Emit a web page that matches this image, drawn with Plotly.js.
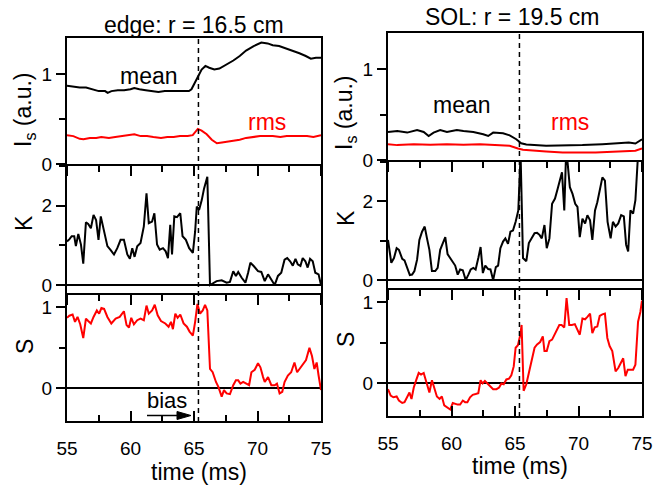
<!DOCTYPE html>
<html>
<head>
<meta charset="utf-8">
<script src="https://cdn.plot.ly/plotly-3.0.1.min.js"></script>
<style>html,body{margin:0;padding:0;background:#fff;}#chart{width:654px;height:491px;}</style>
</head>
<body>
<div id="chart"></div>
<script>
// ---------- DATA ----------
const biasTime = 65.35;

// edge (r = 16.5 cm): Is mean
const tMeanEdge = [55.0,55.5,56.0,56.5,57.0,57.5,58.0,58.2,58.5,59.0,59.5,60.0,60.3,60.7,61.2,61.7,62.2,62.7,63.2,63.7,64.2,64.6,64.8,65.0,65.35,65.6,65.9,66.2,66.6,67.0,67.5,68.1,68.6,69.1,69.7,70.3,70.8,71.2,71.7,72.3,72.8,73.3,73.8,74.2,74.6,75.0];
const meanEdge  = [0.87,0.86,0.85,0.85,0.83,0.81,0.81,0.79,0.81,0.82,0.82,0.83,0.845,0.83,0.82,0.81,0.80,0.81,0.81,0.815,0.81,0.81,0.83,0.88,0.98,1.05,1.09,1.07,1.05,1.06,1.10,1.15,1.20,1.26,1.31,1.35,1.34,1.32,1.31,1.28,1.26,1.23,1.20,1.17,1.18,1.18];
// edge: Is rms
const tRmsEdge = [55.0,55.5,56.0,56.3,56.8,57.3,57.7,58.3,58.8,59.3,59.8,60.3,60.8,61.3,61.8,62.4,62.9,63.4,63.9,64.5,64.9,65.3,65.6,66.0,66.4,66.8,67.2,67.7,68.1,68.6,69.1,69.6,70.2,70.7,71.2,71.8,72.3,72.9,73.4,73.9,74.4,74.7,75.0];
const rmsEdge  = [0.32,0.31,0.28,0.275,0.29,0.29,0.30,0.29,0.30,0.31,0.32,0.33,0.31,0.31,0.30,0.29,0.30,0.30,0.31,0.31,0.32,0.39,0.37,0.33,0.27,0.23,0.24,0.25,0.26,0.27,0.29,0.30,0.31,0.31,0.31,0.30,0.31,0.31,0.31,0.31,0.30,0.31,0.32];
// edge: kurtosis K
const tKEdge = [55.00,55.18,55.37,55.57,55.70,55.89,56.10,56.28,56.49,56.67,56.88,57.09,57.29,57.48,57.66,57.92,58.18,58.44,58.70,58.96,59.22,59.48,59.75,59.95,60.14,60.32,60.53,60.79,61.05,61.26,61.44,61.70,61.88,62.09,62.30,62.56,62.77,62.95,63.13,63.27,63.45,63.66,63.92,64.10,64.36,64.62,64.91,65.09,65.22,65.40,65.61,65.79,66.05,66.26,66.52,66.78,67.18,67.57,67.83,68.09,68.30,68.48,68.74,69.05,69.26,69.44,69.70,70.04,70.30,70.57,70.83,71.09,71.35,71.61,71.87,72.13,72.34,72.57,72.78,72.99,73.17,73.38,73.56,73.77,73.95,74.14,74.35,74.55,74.81,75.00];
const kEdge  = [1.10,1.15,1.23,1.23,0.98,1.29,1.02,0.54,1.58,1.54,1.43,1.77,1.64,1.14,1.73,1.31,0.98,0.88,0.77,0.93,1.14,1.14,0.77,0.66,0.93,0.71,0.98,1.06,1.48,2.31,1.56,1.60,1.81,1.02,0.89,0.93,0.85,0.68,1.52,0.77,1.73,1.71,1.81,1.23,1.14,0.93,0.81,1.35,1.98,1.89,2.14,2.43,2.73,0.0,0.06,0.10,0.12,0.06,0.08,0.35,0.23,0.33,0.19,0.06,0.31,0.56,0.48,0.35,0.33,0.10,0.27,0.14,0.0,0.23,0.31,0.64,0.68,0.60,0.49,0.66,0.52,0.48,0.68,0.60,0.44,0.66,0.60,0.31,0.27,0.0];
// edge: skewness S
const tSEdge = [55.00,55.18,55.44,55.63,55.83,56.04,56.28,56.49,56.67,56.88,57.09,57.35,57.53,57.71,57.92,58.18,58.49,58.83,59.15,59.48,59.69,59.88,60.06,60.27,60.53,60.79,61.05,61.26,61.44,61.70,61.91,62.14,62.40,62.74,63.00,63.19,63.34,63.53,63.71,63.92,64.18,64.44,64.65,64.91,65.09,65.27,65.48,65.69,65.87,66.05,66.26,66.47,66.73,66.92,67.18,67.36,67.57,67.83,68.09,68.30,68.48,68.66,68.87,69.08,69.34,69.52,69.78,70.04,70.23,70.44,70.57,70.83,71.09,71.35,71.53,71.74,71.95,72.13,72.39,72.65,72.91,73.12,73.38,73.62,73.82,74.09,74.29,74.48,74.66,74.81,75.00];
const sEdge  = [0.87,0.895,0.91,0.82,0.88,0.79,0.62,0.86,0.83,0.80,0.88,0.96,0.92,0.99,0.98,0.88,0.80,0.86,0.88,0.95,0.78,0.75,0.87,0.79,0.84,0.86,0.84,1.02,0.92,0.96,1.03,0.90,0.83,0.80,0.76,0.82,0.73,0.92,0.87,0.91,0.80,0.76,0.70,0.65,0.82,1.04,0.92,0.96,1.03,0.96,0.24,0.20,0.08,0.02,-0.10,-0.02,-0.06,-0.07,0.04,0.10,0.10,0.06,0.08,0.06,0.04,0.20,0.23,0.31,0.26,0.14,0.08,0.14,0.04,0.04,0.06,-0.06,-0.04,0.08,0.16,0.20,0.32,0.20,0.26,0.32,0.35,0.50,0.40,0.24,0.32,0.16,-0.02];

// SOL (r = 19.5 cm): Is mean
const tMeanSol = [55.0,55.73,56.51,57.29,57.81,58.20,58.59,59.11,59.64,60.42,60.94,61.72,62.50,62.89,63.28,64.06,64.58,65.10,65.49,65.89,67.45,68.75,70.31,71.88,73.18,73.96,74.48,75.0];
const meanSol  = [0.309,0.320,0.302,0.331,0.309,0.265,0.302,0.331,0.309,0.331,0.320,0.309,0.284,0.265,0.302,0.294,0.272,0.229,0.185,0.171,0.156,0.156,0.164,0.175,0.185,0.193,0.182,0.229];
// SOL: Is rms
const tRmsSol = [55.0,55.73,57.03,58.33,59.64,60.94,62.24,63.54,64.58,65.23,65.63,67.45,68.75,71.35,73.18,73.96,74.48,75.0];
const rmsSol  = [0.175,0.164,0.175,0.168,0.175,0.168,0.175,0.164,0.156,0.127,0.113,0.095,0.084,0.084,0.091,0.102,0.102,0.127];
// SOL: kurtosis K
const tKSol = [55.00,55.26,55.47,55.68,55.86,56.12,56.30,56.51,56.72,56.90,57.08,57.29,57.47,57.68,57.89,58.07,58.26,58.46,58.72,58.91,59.11,59.32,59.51,59.69,59.90,60.10,60.29,60.49,60.68,60.89,61.12,61.33,61.51,61.72,61.90,62.11,62.29,62.47,62.66,62.89,63.07,63.28,63.49,63.67,63.85,64.06,64.24,64.45,64.64,64.84,65.05,65.26,65.44,65.63,65.89,66.09,66.33,66.54,66.74,66.93,67.11,67.32,67.50,67.71,67.92,68.15,68.36,68.54,68.70,68.88,69.01,69.14,69.32,69.53,69.74,69.92,70.10,70.31,70.52,70.70,70.91,71.09,71.30,71.48,71.69,71.88,72.08,72.29,72.53,72.71,72.92,73.13,73.36,73.57,73.75,73.91,74.09,74.30,74.48,74.69,75.00];
const kSol  = [1.02,0.44,0.56,0.81,0.77,0.54,0.50,0.31,0.13,0.14,0.23,0.52,1.02,1.23,1.36,1.06,0.77,0.23,0.23,0.31,0.77,0.94,1.09,0.66,0.56,0.44,0.37,0.14,0.27,0.25,0.0,0.14,0.27,0.31,0.27,0.56,0.84,0.18,0.37,0.28,0.27,0.0,0.33,0.37,0.81,0.98,1.06,0.92,1.23,1.26,1.48,1.77,3.2,0.56,0.48,0.94,1.09,1.19,1.20,1.15,1.06,1.40,0.81,1.06,1.94,2.07,2.32,2.51,2.74,1.77,3.1,2.99,2.36,2.19,1.94,1.86,1.09,1.56,1.44,1.65,1.52,1.02,1.77,1.98,2.28,2.61,2.53,1.48,1.06,1.48,1.36,1.44,1.65,1.62,0.90,0.73,1.77,1.69,2.03,3.2,3.5];
// SOL: skewness S
const tSSol = [55.00,55.21,55.42,55.68,55.86,56.12,56.30,56.51,56.69,56.85,57.03,57.24,57.42,57.60,57.81,58.07,58.26,58.46,58.65,58.85,59.06,59.24,59.43,59.64,59.90,60.10,60.29,60.49,60.68,60.89,61.07,61.25,61.46,61.67,61.90,62.11,62.29,62.45,62.63,62.81,63.02,63.28,63.54,63.75,63.93,64.11,64.32,64.53,64.71,64.90,65.05,65.23,65.42,65.52,65.68,65.89,66.09,66.33,66.54,66.74,66.98,67.19,67.32,67.50,67.71,67.92,68.10,68.28,68.49,68.67,68.88,69.06,69.27,69.48,69.71,69.92,70.10,70.31,70.52,70.70,70.91,71.09,71.28,71.48,71.67,71.88,72.08,72.27,72.45,72.66,72.92,73.13,73.31,73.52,73.70,73.88,74.09,74.30,74.48,74.69,74.87,75.00];
const sSol  = [-0.07,-0.15,-0.17,-0.16,-0.21,-0.24,-0.23,-0.17,-0.11,-0.19,-0.05,0.05,0.13,0.11,0.13,-0.01,-0.11,0.04,-0.05,-0.16,-0.19,-0.16,-0.27,-0.29,-0.32,-0.24,-0.25,-0.26,-0.26,-0.21,-0.23,-0.23,-0.17,-0.14,-0.13,-0.12,0.04,0.0,0.03,0.0,-0.03,-0.07,-0.07,-0.05,0.0,-0.01,0.05,0.06,0.10,0.21,0.44,0.47,0.60,0.72,-0.09,-0.01,0.13,0.29,0.44,0.48,0.51,0.58,0.40,0.40,0.52,0.54,0.60,0.66,0.72,0.72,0.69,1.05,0.72,0.72,0.73,0.66,0.60,0.80,0.79,0.82,0.86,0.62,0.69,0.70,0.83,0.85,0.86,0.56,0.46,0.40,0.15,0.19,0.24,0.31,0.09,0.17,0.17,0.17,0.23,0.76,0.88,1.02];

// ---------- LAYOUT HELPERS ----------
const W = 654, H = 491;
const px = v => v / W;
const py = v => 1 - v / H;
const FONT = 'Arial, "Liberation Sans", sans-serif';
const BLACK = '#000000', RED = '#ff0000';

function xax(dom, anchor, bottom) {
  return {
    domain: [px(dom[0]), px(dom[1])], anchor: anchor, range: [55, 75],
    showgrid: false, zeroline: false, showline: true, mirror: true,
    linecolor: BLACK, linewidth: 2,
    ticks: bottom ? 'inside' : 'outside', tick0: 55, dtick: 5, ticklen: 10, tickwidth: 2, tickcolor: BLACK,
    minor: {dtick: 2.5, tick0: 55, ticklen: 6, tickwidth: 2, tickcolor: BLACK, ticks: bottom ? 'inside' : 'outside', showgrid: false},
    showticklabels: !!bottom, ticklabelstandoff: 9,
    tickfont: {family: FONT, size: 19, color: BLACK}
  };
}
function yax(dom, anchor, range, dtick, minorDtick, zl) {
  return {
    domain: [py(dom[1]), py(dom[0])], anchor: anchor, range: range,
    showgrid: false, zeroline: zl, zerolinecolor: BLACK, zerolinewidth: 2,
    showline: true, mirror: true, linecolor: BLACK, linewidth: 2,
    ticks: 'outside', tick0: 0, dtick: dtick, ticklen: 9, tickwidth: 2, tickcolor: BLACK,
    minor: {dtick: minorDtick, tick0: 0, ticklen: 6, tickwidth: 2, tickcolor: BLACK, ticks: 'outside', showgrid: false},
    tickfont: {family: FONT, size: 19, color: BLACK}
  };
}

// panel boxes in pixels; neighbouring panels overlap so shared edges draw as one line
const LX = [67, 321], RX = [388, 642];
const L1 = [38, 164], L2 = [166, 293], L3 = [295, 421];
const R1 = [33, 160], R2 = [162, 288], R3 = [290, 416];

const ln = (c) => ({color: c, width: 2});
const data = [
  {x: tMeanEdge, y: meanEdge, xaxis: 'x', yaxis: 'y', mode: 'lines', line: ln(BLACK)},
  {x: tRmsEdge, y: rmsEdge, xaxis: 'x', yaxis: 'y', mode: 'lines', line: ln(RED)},
  {x: tKEdge, y: kEdge, xaxis: 'x2', yaxis: 'y2', mode: 'lines', line: ln(BLACK)},
  {x: tSEdge, y: sEdge, xaxis: 'x3', yaxis: 'y3', mode: 'lines', line: ln(RED)},
  {x: tMeanSol, y: meanSol, xaxis: 'x4', yaxis: 'y4', mode: 'lines', line: ln(BLACK)},
  {x: tRmsSol, y: rmsSol, xaxis: 'x4', yaxis: 'y4', mode: 'lines', line: ln(RED)},
  {x: tKSol, y: kSol, xaxis: 'x5', yaxis: 'y5', mode: 'lines', line: ln(BLACK)},
  {x: tSSol, y: sSol, xaxis: 'x6', yaxis: 'y6', mode: 'lines', line: ln(RED)}
];

function txt(text, x, y, size, color, angle) {
  return {text: text, x: px(x), y: py(y), xref: 'paper', yref: 'paper', showarrow: false,
          xanchor: 'center', yanchor: 'middle', textangle: angle || 0,
          font: {family: FONT, size: size, color: color || BLACK}};
}

const annotations = [
  txt('edge: r = 16.5 cm', 194, 25, 23),
  txt('SOL: r = 19.5 cm', 512, 17, 23),
  txt('mean', 149, 76, 23),
  txt('rms', 267, 122, 23, RED),
  txt('mean', 462, 105, 23),
  txt('rms', 570, 122, 23, RED),
  txt('I<sub>s</sub> (a.u.)', 24, 110, 23, BLACK, -90),
  txt('K', 24, 223, 23, BLACK, -90),
  txt('S', 25, 347, 23, BLACK, -90),
  txt('I<sub>s</sub> (a.u.)', 345, 112, 23, BLACK, -90),
  txt('K', 346, 218, 23, BLACK, -90),
  txt('S', 346, 340, 23, BLACK, -90),
  txt('time (ms)', 199, 472, 23),
  txt('time (ms)', 520, 466, 23),
  txt('bias', 167, 400, 22)
];

const shapes = [
  {type: 'line', xref: 'x', yref: 'paper', x0: biasTime, x1: biasTime, y0: py(L3[1] + 1), y1: py(L1[0] - 1),
   line: {color: BLACK, width: 1.5, dash: '5px,4px'}},
  {type: 'line', xref: 'x4', yref: 'paper', x0: biasTime, x1: biasTime, y0: py(R3[1] + 1), y1: py(R1[0] - 1),
   line: {color: BLACK, width: 1.5, dash: '5px,4px'}},
  // "bias" arrow
  {type: 'line', xref: 'paper', yref: 'paper', x0: px(147), x1: px(180), y0: py(415.5), y1: py(415.5),
   line: {color: BLACK, width: 1.5}},
  {type: 'path', xref: 'paper', yref: 'paper',
   path: 'M ' + px(177) + ' ' + py(411.5) + ' L ' + px(191) + ' ' + py(415.5) + ' L ' + px(177) + ' ' + py(419.5) + ' Z',
   fillcolor: BLACK, line: {color: BLACK, width: 1}}
];

const layout = {
  width: W, height: H, margin: {l: 0, r: 0, t: 0, b: 0},
  paper_bgcolor: '#ffffff', plot_bgcolor: '#ffffff', showlegend: false,
  font: {family: FONT, color: BLACK},
  xaxis:  xax(LX, 'y', false),  yaxis:  yax(L1, 'x', [0, 1.4], 1, 0.5, false),
  xaxis2: xax(LX, 'y2', false), yaxis2: yax(L2, 'x2', [-0.2, 3.0], 2, 1, true),
  xaxis3: xax(LX, 'y3', true),  yaxis3: yax(L3, 'x3', [-0.4, 1.15], 1, 0.5, true),
  xaxis4: xax(RX, 'y4', false), yaxis4: yax(R1, 'x4', [0, 1.4], 1, 0.5, false),
  xaxis5: xax(RX, 'y5', false), yaxis5: yax(R2, 'x5', [-0.2, 3.0], 2, 1, true),
  xaxis6: xax(RX, 'y6', true),  yaxis6: yax(R3, 'x6', [-0.4, 1.15], 1, 0.5, true),
  annotations: annotations, shapes: shapes
};

Plotly.newPlot('chart', data, layout, {staticPlot: true, displayModeBar: false});
</script>
</body>
</html>
